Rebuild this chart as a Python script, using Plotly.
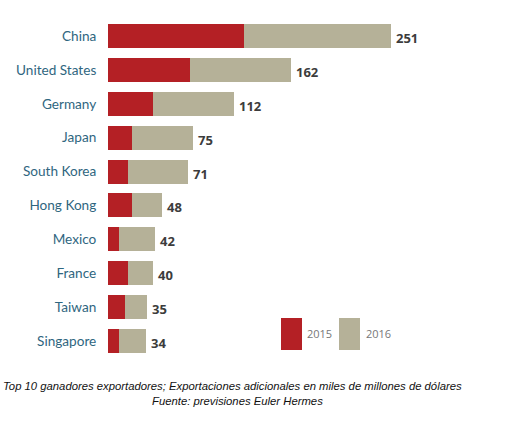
import plotly.graph_objects as go

countries = ["China", "United States", "Germany", "Japan", "South Korea",
             "Hong Kong", "Mexico", "France", "Taiwan", "Singapore"]
values_2015 = [121, 73, 40, 21, 18, 21, 10, 18, 15, 10]
values_2016 = [130, 89, 72, 54, 53, 27, 32, 22, 20, 24]
totals = [a + b for a, b in zip(values_2015, values_2016)]
series_names = ["2015", "2016"]

RED = "#b42025"
BEIGE = "#b5b198"
LABEL = "#2f6680"

fig = go.Figure()
fig.add_trace(go.Bar(y=countries, x=values_2015, orientation="h", name=series_names[0],
                     marker=dict(color=RED, line=dict(width=0)), showlegend=False))
fig.add_trace(go.Bar(y=countries, x=values_2016, orientation="h", name=series_names[1],
                     marker=dict(color=BEIGE, line=dict(width=0)), showlegend=False))

for c, t in zip(countries, totals):
    fig.add_annotation(x=t, y=c, text=f"<b>{t}</b>", showarrow=False, xanchor="left",
                       yanchor="middle", xshift=3, yshift=-2,
                       font=dict(family="Open Sans", size=13, color="#3c3c3c"))

W = 338.0
H = 339.0
def px(x):
    return (x - 108) / W
def py(y):
    return (358 - y) / H

# legend (drawn manually to mimic tall swatches)
fig.add_shape(type="rect", xref="paper", yref="paper", x0=px(281), x1=px(302),
              y0=py(350), y1=py(318), fillcolor=RED, line=dict(width=0))
fig.add_shape(type="rect", xref="paper", yref="paper", x0=px(339), x1=px(360),
              y0=py(350), y1=py(318), fillcolor=BEIGE, line=dict(width=0))
fig.add_annotation(xref="paper", yref="paper", x=px(305), y=py(333),
                   text=series_names[0], showarrow=False, xanchor="left", yanchor="middle",
                   font=dict(family="Open Sans", size=11, color="#777"))
fig.add_annotation(xref="paper", yref="paper", x=px(364), y=py(333),
                   text=series_names[1], showarrow=False, xanchor="left", yanchor="middle",
                   font=dict(family="Open Sans", size=11, color="#777"))

# caption
fig.add_annotation(xref="paper", yref="paper", x=px(232), y=py(386),
                   text="<i>Top 10 ganadores exportadores; Exportaciones adicionales en miles de millones de dólares</i>",
                   showarrow=False, xanchor="center", yanchor="middle",
                   font=dict(family="Liberation Sans", size=11.3, color="#111"))
fig.add_annotation(xref="paper", yref="paper", x=px(237), y=py(401),
                   text="<i>Fuente: previsiones Euler Hermes</i>",
                   showarrow=False, xanchor="center", yanchor="middle",
                   font=dict(family="Liberation Sans", size=11.3, color="#111"))

fig.update_layout(
    width=510, height=433,
    margin=dict(l=108, r=64, t=19, b=75),
    barmode="stack", bargap=0.29,
    plot_bgcolor="white", paper_bgcolor="white",
    xaxis=dict(range=[0, 300], visible=False, fixedrange=True),
    yaxis=dict(autorange="reversed", showgrid=False, zeroline=False, showline=False,
               automargin=False,
               ticks="outside", ticklen=8, tickcolor="rgba(0,0,0,0)",
               tickfont=dict(family="Lato", size=13.6, color=LABEL)),
)

fig.write_html("out.html")
